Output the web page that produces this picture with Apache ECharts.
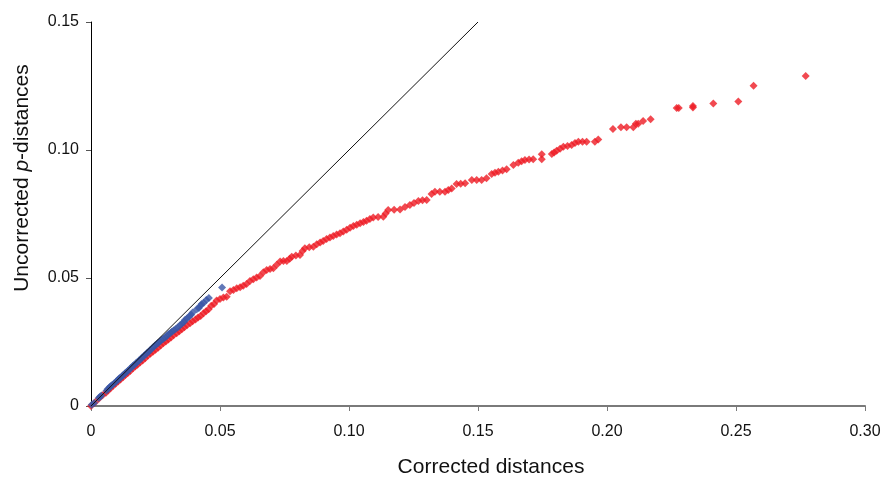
<!DOCTYPE html>
<html>
<head>
<meta charset="utf-8">
<script src="https://cdn.jsdelivr.net/npm/echarts@6/dist/echarts.min.js"></script>
<style>html,body{margin:0;padding:0;background:#fff}#c{width:886px;height:477px}</style>
</head>
<body>
<div id="c"></div>
<script>
// Tick values
const xTicks = [0, 0.05, 0.10, 0.15, 0.20, 0.25, 0.30];
const yTicks = [0, 0.05, 0.10, 0.15];
// Reference line y = x
const refLine = [[0, 0], [0.15, 0.15]];
// Red series (x, y)
const redX = [0.0000,0.0015,0.0030,0.0045,0.0058,0.0066,0.0075,0.0085,0.0095,0.0105,0.0114,0.0124,0.0133,0.0142,0.0152,0.0162,0.0171,0.0180,0.0190,0.0200,0.0210,0.0220,0.0230,0.0240,0.0250,0.0260,0.0270,0.0280,0.0290,0.0300,0.0310,0.0320,0.0332,0.0342,0.0352,0.0362,0.0372,0.0384,0.0394,0.0405,0.0415,0.0425,0.0436,0.0446,0.0456,0.0466,0.0477,0.0487,0.0500,0.0513,0.0526,0.0539,0.0552,0.0565,0.0578,0.0590,0.0603,0.0616,0.0629,0.0642,0.0655,0.0668,0.0681,0.0694,0.0707,0.0720,0.0733,0.0746,0.0759,0.0770,0.0778,0.0794,0.0810,0.0820,0.0829,0.0846,0.0862,0.0875,0.0888,0.0900,0.0913,0.0926,0.0939,0.0952,0.0965,0.0978,0.0991,0.1004,0.1017,0.1030,0.1043,0.1056,0.1068,0.1081,0.1094,0.1113,0.1133,0.1142,0.1152,0.1175,0.1198,0.1217,0.1236,0.1252,0.1269,0.1285,0.1301,0.1320,0.1333,0.1352,0.1372,0.1385,0.1398,0.1417,0.1433,0.1450,0.1476,0.1495,0.1514,0.1533,0.1553,0.1566,0.1579,0.1595,0.1611,0.1637,0.1656,0.1669,0.1682,0.1698,0.1714,0.1747,0.1747,0.1786,0.1795,0.1805,0.1818,0.1831,0.1847,0.1863,0.1876,0.1889,0.1905,0.1921,0.1953,0.1966,0.2023,0.2054,0.2076,0.2102,0.2112,0.2121,0.2140,0.2169,0.2270,0.2278,0.2333,0.2333,0.2412,0.2509,0.2568,0.2770];
const redY = [0.0000,0.0014,0.0028,0.0042,0.0052,0.0061,0.0068,0.0078,0.0087,0.0096,0.0104,0.0112,0.0121,0.0128,0.0137,0.0146,0.0154,0.0161,0.0170,0.0178,0.0187,0.0196,0.0204,0.0212,0.0220,0.0228,0.0236,0.0245,0.0252,0.0260,0.0268,0.0276,0.0284,0.0292,0.0300,0.0308,0.0315,0.0323,0.0331,0.0338,0.0346,0.0352,0.0362,0.0370,0.0378,0.0392,0.0398,0.0412,0.0418,0.0424,0.0427,0.0448,0.0453,0.0460,0.0464,0.0470,0.0477,0.0488,0.0495,0.0502,0.0508,0.0522,0.0531,0.0535,0.0538,0.0552,0.0564,0.0566,0.0566,0.0575,0.0583,0.0588,0.0590,0.0605,0.0616,0.0620,0.0622,0.0632,0.0639,0.0645,0.0652,0.0658,0.0664,0.0670,0.0675,0.0682,0.0688,0.0696,0.0703,0.0708,0.0714,0.0719,0.0724,0.0730,0.0736,0.0738,0.0739,0.0752,0.0766,0.0767,0.0768,0.0777,0.0785,0.0793,0.0801,0.0804,0.0805,0.0828,0.0837,0.0837,0.0837,0.0844,0.0850,0.0867,0.0868,0.0870,0.0883,0.0883,0.0883,0.0890,0.0906,0.0911,0.0915,0.0920,0.0925,0.0941,0.0950,0.0956,0.0961,0.0963,0.0964,0.0983,0.0964,0.0984,0.0990,0.0997,0.1005,0.1013,0.1016,0.1020,0.1027,0.1032,0.1032,0.1032,0.1032,0.1041,0.1082,0.1089,0.1089,0.1089,0.1103,0.1103,0.1113,0.1120,0.1164,0.1164,0.1166,0.1172,0.1182,0.1189,0.1251,0.1289];
// Blue series (x, y)
const blueX = [0.0003,0.0012,0.0030,0.0035,0.0040,0.0060,0.0065,0.0072,0.0076,0.0082,0.0090,0.0097,0.0103,0.0108,0.0113,0.0119,0.0125,0.0131,0.0137,0.0143,0.0150,0.0156,0.0162,0.0168,0.0174,0.0180,0.0186,0.0192,0.0198,0.0205,0.0211,0.0217,0.0223,0.0229,0.0235,0.0242,0.0248,0.0254,0.0260,0.0267,0.0273,0.0280,0.0287,0.0294,0.0300,0.0308,0.0313,0.0320,0.0328,0.0336,0.0345,0.0352,0.0360,0.0364,0.0372,0.0380,0.0388,0.0394,0.0410,0.0418,0.0425,0.0429,0.0437,0.0447,0.0457,0.0508];
const blueY = [0.0005,0.0012,0.0031,0.0036,0.0041,0.0060,0.0066,0.0073,0.0077,0.0082,0.0089,0.0095,0.0101,0.0106,0.0110,0.0115,0.0121,0.0127,0.0132,0.0138,0.0144,0.0150,0.0156,0.0161,0.0167,0.0172,0.0178,0.0183,0.0189,0.0195,0.0201,0.0207,0.0212,0.0218,0.0224,0.0230,0.0236,0.0241,0.0246,0.0252,0.0258,0.0263,0.0268,0.0273,0.0280,0.0285,0.0290,0.0295,0.0301,0.0307,0.0315,0.0321,0.0328,0.0336,0.0342,0.0350,0.0356,0.0365,0.0378,0.0383,0.0393,0.0398,0.0403,0.0414,0.0422,0.0463];

const redData = redX.map((x, i) => [x, redY[i]]);
const blueData = blueX.map((x, i) => [x, blueY[i]]);
const fmt = v => (v === 0 ? '0' : v.toFixed(2));
const FONT = 'Liberation Sans, Arial, sans-serif';

const chart = echarts.init(document.getElementById('c'), null, {renderer: 'canvas'});
chart.setOption({
  animation: false,
  backgroundColor: '#ffffff',
  grid: {left: 91, right: 21, top: 22, bottom: 71, containLabel: false, outerBoundsMode: 'none'},
  xAxis: {
    type: 'value', min: xTicks[0], max: xTicks[xTicks.length - 1], interval: 0.05,
    name: 'Corrected distances', nameLocation: 'middle', nameGap: 51,
    nameTextStyle: {fontFamily: FONT, fontSize: 21, color: '#111', padding: [0, 0, 0, 26]},
    axisLine: {show: true, onZero: false, lineStyle: {color: '#7a7a7a', width: 2}},
    axisTick: {show: true, length: 5, lineStyle: {color: '#7a7a7a', width: 1}},
    axisLabel: {formatter: fmt, fontFamily: FONT, fontSize: 16, color: '#111', margin: 18},
    splitLine: {show: false}
  },
  yAxis: {
    type: 'value', min: yTicks[0], max: yTicks[yTicks.length - 1], interval: 0.05,
    name: '{a|Uncorrected }{i|p}{a|-distances}', nameLocation: 'middle', nameGap: 58, nameRotate: 90,
    nameTextStyle: {
      padding: [0, 0, 0, 72],
      rich: {
        a: {fontFamily: FONT, fontSize: 21, color: '#111'},
        i: {fontFamily: FONT, fontSize: 21, fontStyle: 'italic', color: '#111'}
      }
    },
    axisLine: {show: true, onZero: false, lineStyle: {color: '#000', width: 1}},
    axisTick: {show: true, length: 5, lineStyle: {color: '#555', width: 1}},
    axisLabel: {formatter: fmt, fontFamily: FONT, fontSize: 16, color: '#111', margin: 12},
    splitLine: {show: false}
  },
  series: [
    {type: 'scatter', data: redData, symbol: 'diamond', symbolSize: 8,
     itemStyle: {color: '#ed1c24'}, z: 2},
    {type: 'scatter', data: blueData, symbol: 'diamond', symbolSize: 8,
     itemStyle: {color: '#3a56a6'}, z: 3},
    {type: 'line', data: refLine, symbol: 'none', lineStyle: {color: '#111', width: 1}, z: 4}
  ]
});
</script>
</body>
</html>
